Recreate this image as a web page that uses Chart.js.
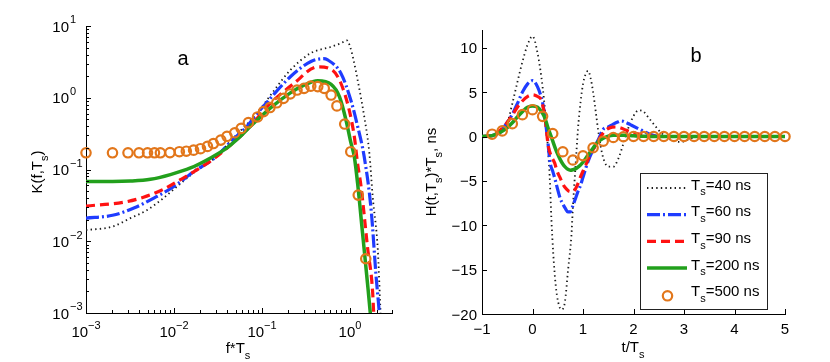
<!DOCTYPE html>
<html>
<head>
<meta charset="utf-8">
<script src="https://cdn.jsdelivr.net/npm/chart.js@4.4.1/dist/chart.umd.min.js"></script>
<style>
  html, body { margin: 0; padding: 0; background: #fff; }
  .wrap { position: relative; width: 830px; height: 362px; }
  .panel { position: absolute; top: 0; width: 415px; height: 362px; }
  #panelA { left: 0; }
  #panelB { left: 415px; }
</style>
</head>
<body>
<div class="wrap">
  <div class="panel" id="panelA"><canvas id="chartA" width="415" height="362"></canvas></div>
  <div class="panel" id="panelB"><canvas id="chartB" width="415" height="362"></canvas></div>
</div>
<script>
// ---- panel a: K(f,Ts) against f*Ts, log-log
const fTs40 = [0.001, 0.002, 0.0032, 0.0049, 0.0076, 0.0105, 0.0167, 0.028, 0.048, 0.07, 0.1, 0.126, 0.21, 0.36, 0.6, 0.8, 0.92, 1.0, 1.1, 1.22, 1.45, 1.66, 1.81, 2.07, 2.21, 2.3];
const K40   = [0.0143, 0.016, 0.021, 0.027, 0.040, 0.056, 0.09, 0.14, 0.28, 0.45, 0.75, 1.1, 2.43, 4.2, 5.1, 5.8, 6.3, 5.2, 3.3, 1.77, 0.55, 0.168, 0.042, 0.0076, 0.0012, 0.0004];

const fTs60 = [0.001, 0.002, 0.0035, 0.0059, 0.01, 0.0167, 0.028, 0.048, 0.065, 0.09, 0.126, 0.21, 0.36, 0.5, 0.55, 0.79, 1.02, 1.22, 1.45, 1.74, 1.98, 2.15, 2.25];
const K60   = [0.021, 0.023, 0.029, 0.040, 0.058, 0.093, 0.14, 0.27, 0.38, 0.62, 1.0, 1.96, 3.2, 3.5, 3.4, 2.18, 0.93, 0.40, 0.15, 0.027, 0.0032, 0.001, 0.0004];

const fTs90 = [0.001, 0.0027, 0.0045, 0.0076, 0.0118, 0.018, 0.028, 0.044, 0.06, 0.08, 0.12, 0.23, 0.43, 0.63, 0.79, 0.98, 1.12, 1.22, 1.33, 1.58, 1.81, 1.9];
const K90   = [0.031, 0.035, 0.041, 0.053, 0.072, 0.098, 0.14, 0.22, 0.31, 0.45, 0.80, 1.58, 2.7, 2.43, 1.58, 0.67, 0.286, 0.12, 0.06, 0.0083, 0.0019, 0.0005];

const fTs200 = [0.001, 0.002, 0.0032, 0.0054, 0.0091, 0.0154, 0.026, 0.04, 0.057, 0.074, 0.126, 0.21, 0.30, 0.43, 0.61, 0.76, 0.90, 1.02, 1.12, 1.22, 1.39, 1.58, 1.70, 1.78];
const K200   = [0.068, 0.068, 0.069, 0.073, 0.085, 0.105, 0.145, 0.2, 0.29, 0.40, 0.73, 1.17, 1.50, 1.73, 1.54, 1.03, 0.49, 0.24, 0.15, 0.064, 0.0128, 0.0026, 0.001, 0.0005];

const fTs500 = [0.001, 0.002, 0.003, 0.004, 0.005, 0.006, 0.007, 0.009, 0.0115, 0.0138, 0.0167, 0.020, 0.024, 0.028, 0.034, 0.040, 0.049, 0.058, 0.070, 0.089, 0.104, 0.123, 0.147, 0.175, 0.209, 0.25, 0.30, 0.358, 0.43, 0.51, 0.61, 0.71, 0.87, 1.02, 1.24, 1.51];
const K500   = [0.171, 0.171, 0.171, 0.171, 0.171, 0.171, 0.171, 0.172, 0.177, 0.18, 0.186, 0.195, 0.21, 0.23, 0.257, 0.29, 0.325, 0.374, 0.45, 0.54, 0.64, 0.73, 0.85, 0.98, 1.13, 1.28, 1.35, 1.45, 1.43, 1.35, 1.09, 0.77, 0.43, 0.177, 0.044, 0.0057];

// ---- panel b: H(t,Ts)*Ts against t/Ts
const tTs40 = [-1, -0.8, -0.6, -0.5, -0.4, -0.3, -0.2, -0.1, 0, 0.1, 0.2, 0.25, 0.3, 0.34, 0.375, 0.41, 0.46, 0.51, 0.575, 0.64, 0.705, 0.77, 0.8, 0.85, 0.9, 0.95, 1.0, 1.05, 1.1, 1.15, 1.2, 1.25, 1.3, 1.35, 1.4, 1.5, 1.6, 1.7, 1.8, 1.9, 2.0, 2.1, 2.2, 2.3, 2.4, 2.5, 2.6, 2.7, 2.8, 2.9, 3.0, 3.1, 3.2, 3.4, 4, 5];
const H40   = [0, 0.05, 0.5, 1.5, 3.7, 6.1, 8.4, 10.3, 11.3, 9.4, 5.6, 2.8, -0.8, -4.5, -9.4, -13.1, -16.8, -18.7, -19.5, -18.7, -15, -11.2, -8, -3.5, 0.8, 3.8, 5.9, 7.0, 7.4, 6.6, 5.0, 2.9, 0.7, -1.1, -2.4, -3.4, -3.4, -2.5, -0.8, 1.0, 2.3, 2.95, 2.8, 2.1, 1.4, 0.7, 0.15, -0.25, -0.5, -0.6, -0.55, -0.3, -0.1, 0, 0, 0];

const tTs60 = [-1, -0.8, -0.6, -0.5, -0.4, -0.3, -0.2, -0.1, 0, 0.1, 0.2, 0.25, 0.3, 0.35, 0.4, 0.45, 0.5, 0.55, 0.6, 0.65, 0.7, 0.75, 0.8, 0.85, 0.9, 0.95, 1.0, 1.1, 1.2, 1.3, 1.4, 1.5, 1.6, 1.7, 1.76, 1.86, 1.96, 2.16, 2.3, 2.5, 3, 4, 5];
const H60   = [0, 0.1, 0.8, 1.6, 2.5, 3.7, 5.0, 5.9, 6.3, 5.6, 3.8, 2.0, -0.4, -3.0, -3.9, -4.9, -6.0, -7.0, -7.6, -8.1, -8.5, -8.5, -7.8, -7.0, -6.2, -5.5, -4.6, -2.8, -1.5, -0.4, 0.8, 1.07, 1.4, 1.65, 1.75, 1.55, 1.27, 0.7, 0.3, 0, 0, 0, 0];

const tTs90 = [-1, -0.8, -0.6, -0.5, -0.4, -0.3, -0.2, -0.1, 0, 0.1, 0.18, 0.25, 0.31, 0.37, 0.44, 0.48, 0.55, 0.61, 0.67, 0.74, 0.8, 0.84, 0.9, 0.94, 1.0, 1.07, 1.13, 1.2, 1.27, 1.33, 1.43, 1.5, 1.58, 1.66, 1.75, 1.86, 1.96, 2.06, 2.2, 2.4, 2.6, 3, 4, 5];
const H90   = [0, 0.1, 0.9, 1.6, 2.4, 3.3, 4.0, 4.5, 4.7, 4.5, 4.0, 2.0, -0.97, -2.2, -3.0, -3.8, -4.7, -5.45, -5.9, -6.2, -6.2, -6.0, -5.3, -4.7, -3.9, -3.0, -2.2, -1.5, -0.8, -0.2, 0.6, 0.9, 1.05, 1.07, 0.95, 0.7, 0.5, 0.34, 0.15, 0.03, 0, 0, 0, 0];

const tTs200 = [-1, -0.8, -0.6, -0.5, -0.4, -0.3, -0.2, -0.1, 0, 0.1, 0.2, 0.25, 0.3, 0.35, 0.4, 0.45, 0.5, 0.55, 0.6, 0.65, 0.7, 0.75, 0.8, 0.85, 0.9, 0.95, 1.0, 1.1, 1.2, 1.3, 1.4, 1.5, 1.6, 1.8, 2.0, 2.2, 2.5, 3, 4, 5];
const H200   = [0, 0.1, 0.6, 1.0, 1.55, 2.2, 2.8, 3.3, 3.45, 3.3, 2.6, 2.0, 1.1, 0.3, -0.5, -1.3, -2.0, -2.6, -3.1, -3.45, -3.7, -3.8, -3.75, -3.65, -3.45, -3.2, -2.9, -2.1, -1.3, -0.6, -0.2, 0.05, 0.15, 0.15, 0.08, 0.02, 0, 0, 0, 0];

const tTs500 = [-0.8, -0.6, -0.4, -0.2, 0, 0.2, 0.4, 0.6, 0.8, 1.0, 1.2, 1.4, 1.6, 1.8, 2.0, 2.2, 2.4, 2.6, 2.8, 3.0, 3.2, 3.4, 3.6, 3.8, 4.0, 4.2, 4.4, 4.6, 4.8, 5.0];
const H500   = [0.26, 0.63, 1.45, 2.46, 3.02, 2.27, 0.34, -1.72, -2.65, -2.17, -1.27, -0.53, -0.11, -0.03, 0, 0, 0, 0, 0, 0, 0, 0, 0, 0, 0, 0, 0, 0, 0, 0];

const legendLabels = ['=40 ns', '=60 ns', '=90 ns', '=200 ns', '=500 ns'];
const logDecadesX = [-3, -2, -1, 0];
const logDecadesY = [-3, -2, -1, 0, 1];
const linTicksX = [-1, 0, 1, 2, 3, 4, 5];
const linTicksY = [-20, -15, -10, -5, 0, 5, 10];

const FONT = '"Liberation Sans", Arial, Helvetica, sans-serif';
const styles = [
  { color: '#1a1a1a', width: 1.8, dash: [1.4, 3.2] },
  { color: '#1f3cff', width: 3.2, dash: [13, 3, 2, 3] },
  { color: '#ff1212', width: 3.2, dash: [9, 5] },
  { color: '#22a01c', width: 3.5, dash: [] },
  { color: '#e2761a', marker: true }
];

const pts = (xs, ys) => xs.map((x, i) => ({ x: x, y: ys[i] }));

function buildSets(xs, ys) {
  return xs.map((x, i) => {
    const s = styles[i];
    if (s.marker) {
      return {
        data: pts(x, ys[i]), showLine: false, pointStyle: 'circle', pointRadius: 4.7,
        pointBorderWidth: 2.2, pointBorderColor: s.color, pointBackgroundColor: 'rgba(0,0,0,0)',
        clip: false, order: 1
      };
    }
    return {
      data: pts(x, ys[i]), borderColor: s.color, borderWidth: s.width, borderDash: s.dash,
      pointRadius: 0, fill: false, cubicInterpolationMode: 'monotone', order: 5 - i + 1
    };
  });
}

// text made of normal / subscript / superscript pieces
function drawRich(ctx, parts, x, y, size, align) {
  const small = Math.round(size * 0.7);
  const fontOf = m => (m ? small : size) + 'px ' + FONT;
  let w = 0;
  parts.forEach(([t, m]) => { ctx.font = fontOf(m); w += ctx.measureText(t).width; });
  let cx = align === 'center' ? x - w / 2 : align === 'right' ? x - w : x;
  ctx.textAlign = 'left';
  ctx.textBaseline = 'alphabetic';
  parts.forEach(([t, m]) => {
    ctx.font = fontOf(m);
    const dy = m === 1 ? size * 0.38 : m === 2 ? -size * 0.55 : 0;
    ctx.fillText(t, cx, y + dy);
    cx += ctx.measureText(t).width;
  });
}

const axesA = {
  id: 'axesA',
  afterDraw(chart) {
    const { ctx, chartArea: a, scales: { x, y } } = chart;
    ctx.save();
    ctx.strokeStyle = '#000';
    ctx.fillStyle = '#000';
    ctx.lineWidth = 1;
    ctx.beginPath();
    // inward ticks, with minor ticks at 2..9 of each decade
    logDecadesY.forEach(k => {
      for (let m = 1; m <= 9; m++) {
        const v = m * Math.pow(10, k);
        if (v > y.max * 1.0001) break;
        const py = Math.round(y.getPixelForValue(v)) + 0.5;
        const len = m === 1 ? 5 : 3;
        ctx.moveTo(a.left, py); ctx.lineTo(a.left + len, py);
      }
    });
    logDecadesX.forEach(k => {
      for (let m = 1; m <= 9; m++) {
        const v = m * Math.pow(10, k);
        if (v > x.max * 1.0001) break;
        const px = Math.round(x.getPixelForValue(v)) + 0.5;
        const len = m === 1 ? 5 : 3;
        ctx.moveTo(px, a.bottom); ctx.lineTo(px, a.bottom - len);
      }
    });
    ctx.stroke();
    // tick labels
    logDecadesY.forEach(k => {
      const py = y.getPixelForValue(Math.pow(10, k));
      drawRich(ctx, [['10', 0]], a.left - 17, py + 5.5, 15, 'right');
      drawRich(ctx, [[k < 0 ? '\u2212' + (-k) : String(k), 2]], a.left - 16, py + 5.5, 15, 'left');
    });
    logDecadesX.forEach(k => {
      const px = x.getPixelForValue(Math.pow(10, k));
      drawRich(ctx, [['10', 0], [k < 0 ? '\u2212' + (-k) : String(k), 2]], px, 337, 15, 'center');
    });
    // axis titles
    drawRich(ctx, [['f*T', 0], ['s', 1]], 238, 353, 15, 'center');
    ctx.save();
    ctx.translate(42, 172);
    ctx.rotate(-Math.PI / 2);
    drawRich(ctx, [['K(f,T', 0], ['s', 1], [')', 0]], 0, 0, 15, 'center');
    ctx.restore();
    drawRich(ctx, [['a', 0]], 183, 65, 20, 'center');
    ctx.restore();
  }
};

const axesB = {
  id: 'axesB',
  afterDraw(chart) {
    const { ctx, chartArea: a, scales: { x, y } } = chart;
    ctx.save();
    ctx.strokeStyle = '#000';
    ctx.fillStyle = '#000';
    ctx.lineWidth = 1;
    ctx.beginPath();
    linTicksY.forEach(v => {
      const py = Math.round(y.getPixelForValue(v)) + 0.5;
      ctx.moveTo(a.left, py); ctx.lineTo(a.left + 5, py);
    });
    linTicksX.forEach(v => {
      const px = Math.round(x.getPixelForValue(v)) + 0.5;
      ctx.moveTo(px, a.bottom); ctx.lineTo(px, a.bottom - 5);
    });
    ctx.stroke();
    linTicksY.forEach(v => {
      const py = y.getPixelForValue(v);
      drawRich(ctx, [[v < 0 ? '\u2212' + (-v) : String(v), 0]], a.left - 5, py + 5.5, 15, 'right');
    });
    linTicksX.forEach(v => {
      const px = x.getPixelForValue(v);
      drawRich(ctx, [[v < 0 ? '\u2212' + (-v) : String(v), 0]], px, 334, 15, 'center');
    });
    drawRich(ctx, [['t/T', 0], ['s', 1]], 218, 352, 15, 'center');
    ctx.save();
    ctx.translate(21, 172);
    ctx.rotate(-Math.PI / 2);
    drawRich(ctx, [['H(t,T', 0], ['s', 1], [')*T', 0], ['s', 1], [', ns', 0]], 0, 0, 15, 'center');
    ctx.restore();
    drawRich(ctx, [['b', 0]], 281, 62, 20, 'center');

    // legend
    const lx = 225.5, ly = 173.5, lw = 127, lh = 136;
    ctx.fillStyle = '#fff';
    ctx.fillRect(lx, ly, lw, lh);
    ctx.strokeStyle = '#222';
    ctx.strokeRect(lx, ly, lw, lh);
    legendLabels.forEach((lab, i) => {
      const s = styles[i];
      const yy = 188 + 26.7 * i;
      if (s.marker) {
        ctx.beginPath();
        ctx.arc(252.5, yy + 1, 4.7, 0, Math.PI * 2);
        ctx.strokeStyle = s.color;
        ctx.lineWidth = 2.2;
        ctx.stroke();
      } else {
        ctx.beginPath();
        ctx.setLineDash(s.dash);
        ctx.strokeStyle = s.color;
        ctx.lineWidth = s.width;
        ctx.moveTo(232, yy); ctx.lineTo(272, yy);
        ctx.stroke();
        ctx.setLineDash([]);
      }
      ctx.fillStyle = '#000';
      drawRich(ctx, [['T', 0], ['s', 1], [lab, 0]], 276, yy + 1.5, 15, 'left');
    });
    ctx.restore();
  }
};

const axisOpts = (type, min, max) => ({
  type: type, min: min, max: max,
  ticks: { display: false },
  grid: { display: false, drawTicks: false },
  border: { display: true, color: '#000', width: 1 }
});

new Chart(document.getElementById('chartA'), {
  type: 'line',
  data: { datasets: buildSets([fTs40, fTs60, fTs90, fTs200, fTs500], [K40, K60, K90, K200, K500]) },
  options: {
    responsive: false, animation: false, events: [],
    layout: { padding: { left: 86, right: 23, top: 26, bottom: 49 } },
    plugins: { legend: { display: false }, tooltip: { enabled: false } },
    scales: { x: axisOpts('logarithmic', 0.001, 3), y: axisOpts('logarithmic', 0.001, 10) }
  },
  plugins: [axesA]
});

new Chart(document.getElementById('chartB'), {
  type: 'line',
  data: { datasets: buildSets([tTs40, tTs60, tTs90, tTs200, tTs500], [H40, H60, H90, H200, H500]) },
  options: {
    responsive: false, animation: false, events: [],
    layout: { padding: { left: 67, right: 45, top: 30, bottom: 48 } },
    plugins: { legend: { display: false }, tooltip: { enabled: false } },
    scales: { x: axisOpts('linear', -1, 5), y: axisOpts('linear', -20, 12) }
  },
  plugins: [axesB]
});
</script>
</body>
</html>
